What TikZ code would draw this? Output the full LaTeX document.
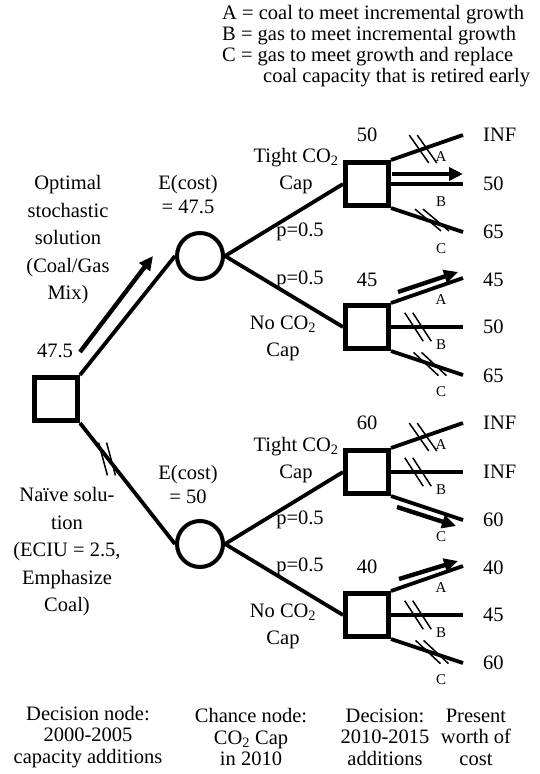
\documentclass[tikz,border=0pt]{standalone}
\usepackage{fontspec}
\setmainfont{Liberation Serif}
\usetikzlibrary{arrows.meta}
\newcommand\dslash[3]{%
  \draw[sl] (#1-4,#2) ++(#3:17) -- ++(#3+180:34);
  \draw[sl] (#1+4,#2) ++(#3:17) -- ++(#3+180:34);}
\begin{document}
\begin{tikzpicture}[x=1pt,y=-1pt,
  txt/.style={font=\fontsize{20.5}{27.5}\selectfont, align=center, inner sep=0pt},
  leg/.style={font=\fontsize{20.5}{21}\selectfont, inner sep=0pt, anchor=base west},
  bot/.style={font=\fontsize{20.5}{21.5}\selectfont, align=center, inner sep=0pt},
  sm/.style={font=\fontsize{15}{15}\selectfont, inner sep=0pt},
  val/.style={font=\fontsize{20.5}{21}\selectfont, inner sep=0pt, anchor=west},
  dec/.style={draw, line width=4.6pt, minimum size=43.4pt, inner sep=0pt},
  chance/.style={draw, circle, line width=4pt, minimum size=46pt, inner sep=0pt},
  br/.style={line width=3.8pt},
  arr/.style={line width=4.4pt, -{Triangle[length=14pt,width=13pt]}},
  sl/.style={line width=1.5pt}]
\useasboundingbox (0,0) rectangle (539,774);

% legend
\node[leg] (l1) at (222,19) {A = coal to meet incremental growth};
\node[leg] (l2) at (222,40) {B = gas to meet incremental growth};
\node[leg] (l3) at (222,61) {C = gas to meet growth and replace};
\node[leg] (l4) at (263,82) {coal capacity that is retired early};

% nodes
\node[dec] (d0) at (56,399) {};
\node[chance] (c1) at (200,256) {};
\node[chance] (c2) at (200,544) {};
\node[dec] (d1) at (367,184) {};
\node[dec] (d2) at (367,327) {};
\node[dec] (d3) at (367,472) {};
\node[dec] (d4) at (367,615) {};

% main connectors
\draw[br] (d0.north east) -- (c1.west);
\draw[br] (d0.south east) -- (c2.west);
\draw[br] (c1.east) -- (d1.west);
\draw[br] (c1.east) -- (d2.west);
\draw[br] (c2.east) -- (d3.west);
\draw[br] (c2.east) -- (d4.west);
\draw[arr] (80,352) -- (153,256);
\dslash{107}{459}{75}

% branch end coordinates
\foreach \d/\y in {d1/184,d2/327,d3/472,d4/615}{
  \coordinate (\d a) at (463,\y-49);
  \coordinate (\d b) at (463,\y);
  \coordinate (\d c) at (463,\y+48);
  \draw[br] (\d.north east) -- (\d a);
  \draw[br] (\d.east) -- (\d b);
  \draw[br] (\d.south east) -- (\d c);
}

% square 1
\dslash{423}{149}{55}
\draw[arr] (392,174) -- (463,174);
\dslash{432}{220}{40}
% square 2
\draw[arr] (398,292) -- (458,272);
\dslash{418}{327}{57}
\dslash{430}{364}{43}
% square 3
\dslash{423}{437}{55}
\dslash{418}{472}{57}
\draw[arr] (397,507) -- (456,526);
% square 4
\draw[arr] (399,579) -- (458,561);
\dslash{418}{615}{57}
\dslash{432}{652}{43}

% A B C labels
\foreach \d/\y in {d1/184,d2/327,d3/472,d4/615}{
  \node[sm] (\d A) at (441,\y-27) {A};
  \node[sm] (\d B) at (441,\y+18) {B};
  \node[sm] (\d C) at (441,\y+65) {C};
}

% values
\node[val] (v1a) at (483,135) {INF};
\node[val] (v1b) at (483,184) {50};
\node[val] (v1c) at (483,232) {65};
\node[val] (v2a) at (483,280) {45};
\node[val] (v2b) at (483,327) {50};
\node[val] (v2c) at (483,376) {65};
\node[val] (v3a) at (483,423) {INF};
\node[val] (v3b) at (483,472) {INF};
\node[val] (v3c) at (483,520) {60};
\node[val] (v4a) at (483,568) {40};
\node[val] (v4b) at (483,615) {45};
\node[val] (v4c) at (483,663) {60};

% labels above squares
\node[txt] (t1) at (367,135) {50};
\node[txt] (t2) at (367,280) {45};
\node[txt] (t3) at (367,423) {60};
\node[txt] (t4) at (367,567) {40};

% other labels
\node[txt] (n475) at (55,351) {47.5};
\node[txt] (opt) at (68,240) {Optimal\\stochastic\\solution\\(Coal/Gas\\Mix)};
\node[txt] (nai) at (67,552) {Naïve solu-\\tion\\(ECIU = 2.5,\\Emphasize\\Coal)};
\node[txt, font=\fontsize{20.5}{24}\selectfont] (e1) at (188,195) {E(cost)\\= 47.5};
\node[txt, font=\fontsize{20.5}{24}\selectfont] (e2) at (188,484) {E(cost)\\= 50};
\node[txt, font=\fontsize{20.5}{27}\selectfont] (tc1) at (296,171) {Tight CO\textsubscript{2}\\Cap};
\node[txt, font=\fontsize{20.5}{27}\selectfont] (tc2) at (296,460) {Tight CO\textsubscript{2}\\Cap};
\node[txt, font=\fontsize{20.5}{27}\selectfont] (nc1) at (283,338) {No CO\textsubscript{2}\\Cap};
\node[txt, font=\fontsize{20.5}{27}\selectfont] (nc2) at (283,626) {No CO\textsubscript{2}\\Cap};
\node[txt] (p1) at (300,232) {p=0.5};
\node[txt] (p2) at (300,280) {p=0.5};
\node[txt] (p3) at (300,520) {p=0.5};
\node[txt] (p4) at (300,567) {p=0.5};

% bottom captions
\node[bot] (b1) at (88,737) {Decision node:\\2000-2005\\capacity additions};
\node[bot] (b2) at (251,737) {Chance node:\\CO\textsubscript{2} Cap\\in 2010};
\node[bot] (b3) at (385,737) {Decision:\\2010-2015\\additions};
\node[bot] (b4) at (476,737) {Present\\worth of\\cost};
\end{tikzpicture}
\end{document}
